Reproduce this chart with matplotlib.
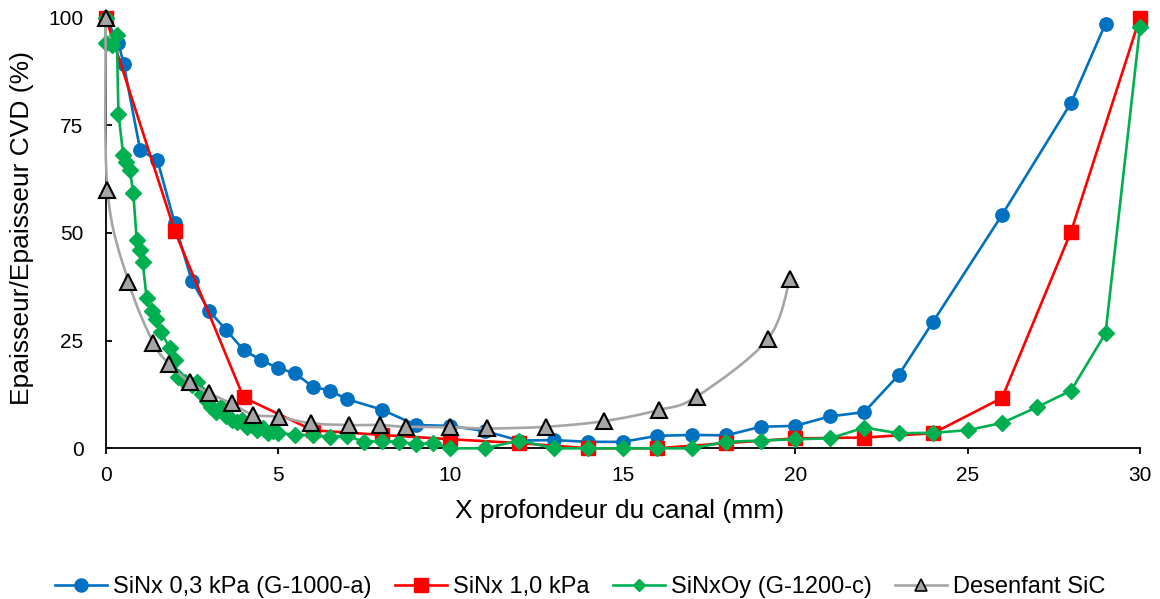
import numpy as np
import matplotlib
matplotlib.use("Agg")
import matplotlib.pyplot as plt
from matplotlib.path import Path
from matplotlib.patches import PathPatch
from matplotlib.lines import Line2D

plt.rcParams['font.family'] = ['Liberation Sans', 'DejaVu Sans']

# ---------------- data ----------------
blue_x = [0, 0.37, 0.52, 1.0, 1.5, 2.0, 2.5, 3.0, 3.5, 4.0, 4.5, 5.0, 5.5, 6.0, 6.5, 7.0,
          8.0, 9.0, 10, 11, 12, 13, 14, 15, 16, 17, 18, 19, 20, 21, 22, 23, 24, 26, 28, 29]
blue_y = [100, 94, 89.3, 69.2, 66.9, 52.3, 38.8, 31.9, 27.4, 22.8, 20.5, 18.6, 17.4, 14.3, 13.4, 11.4,
          9.0, 5.4, 5.2, 4.0, 1.8, 1.9, 1.5, 1.5, 2.9, 3.1, 3.0, 5.0, 5.2, 7.4, 8.4, 17.0, 29.4, 54.2, 80.2, 98.6]

red_x = [0, 2, 4, 6, 8, 10, 12, 14, 16, 18, 20, 22, 24, 26, 28, 30]
red_y = [100, 50.5, 11.8, 4.2, 3.1, 2.1, 1.2, 0, 0, 1.2, 2.3, 2.5, 3.5, 11.7, 50.3, 100]

green_x = [0, 0, 0.17, 0.32, 0.37, 0.51, 0.6, 0.7, 0.8, 0.9, 1.0, 1.07, 1.19, 1.33, 1.45, 1.6,
           1.86, 2.0, 2.1, 2.3, 2.5, 2.65, 2.8, 2.95, 3.05, 3.2, 3.35, 3.5, 3.65, 3.8, 3.95,
           4.1, 4.25, 4.4, 4.55, 4.7, 4.85, 5.0, 5.5, 6.0, 6.5, 7.0, 7.5, 8.0, 8.5, 9.0, 9.5,
           10, 11, 12, 13, 14, 15, 16, 17, 18, 19, 20, 21, 22, 23, 24, 25, 26, 27, 28, 29, 30]
green_y = [100, 94, 93.6, 96, 77.7, 68, 66.5, 64.6, 59.3, 48.3, 46, 43.3, 34.8, 31.9, 29.9, 27.1,
           23.2, 20.5, 16.5, 15.5, 14.8, 15.5, 12.5, 11, 9.5, 8.5, 9.5, 7.5, 6.5, 6, 6.5,
           5, 5.5, 4.2, 4.8, 3.5, 4, 3.5, 3.2, 3.0, 2.7, 2.9, 1.5, 1.7, 1.5, 1.0, 1.2,
           0, 0, 1.8, 0, 0, 0, 0, 0, 1.5, 1.8, 2.1, 2.3, 4.8, 3.5, 3.6, 4.2, 5.9, 9.5, 13.4, 26.7, 97.8]

gray_x = [0, 0.05, 0.66, 1.38, 1.85, 2.44, 3.0, 3.65, 4.28, 5.03, 5.95, 7.07, 7.95, 8.7,
          9.99, 11.07, 12.77, 14.45, 16.05, 17.14, 19.2, 19.85]
gray_y = [100, 60, 38.7, 24.5, 19.5, 15.3, 12.8, 10.4, 7.8, 7.3, 5.8, 5.4, 5.4, 5.0,
          4.9, 4.6, 5.0, 6.3, 8.9, 12.0, 25.3, 39.4]

labels = ["SiNx 0,3 kPa (G-1000-a)", "SiNx 1,0 kPa", "SiNxOy (G-1200-c)", "Desenfant SiC"]
x_ticks = [0, 5, 10, 15, 20, 25, 30]
y_ticks = [0, 25, 50, 75, 100]

# ---------------- style ----------------
BLUE = "#0070C0"
RED = "#FF0000"
GREEN = "#00B050"
GRAY = "#A5A5A5"

fig = plt.figure(figsize=(11.6, 5.99), dpi=100)
ax = fig.add_axes([105.7 / 1160, 1 - 448.3 / 599, (1140 - 105.7) / 1160, (448.3 - 17.5) / 599])

lw = 1.9
ax.plot(blue_x, blue_y, color=BLUE, lw=lw, marker='o', ms=9.6, mec=BLUE, mfc=BLUE,
        clip_on=False, zorder=3)
ax.plot(red_x, red_y, color=RED, lw=lw, marker='s', ms=10, mec=RED, mfc=RED,
        clip_on=False, zorder=4)
ax.plot(green_x, green_y, color=GREEN, lw=lw, marker='D', ms=8.2, mec=GREEN, mfc=GREEN,
        clip_on=False, zorder=5)


def smooth_path(xs, ys):
    pts = np.column_stack([xs, ys]).astype(float)
    n = len(pts)
    verts = [pts[0]]
    codes = [Path.MOVETO]
    for i in range(n - 1):
        p0 = pts[i - 1] if i > 0 else pts[i]
        p1 = pts[i]
        p2 = pts[i + 1]
        p3 = pts[i + 2] if i + 2 < n else pts[i + 1]
        c1 = p1 + (p2 - p0) / 6.0
        c2 = p2 - (p3 - p1) / 6.0
        verts += [c1, c2, p2]
        codes += [Path.CURVE4] * 3
    return Path(verts, codes)


patch = PathPatch(smooth_path(gray_x, gray_y), facecolor='none', edgecolor=GRAY, lw=lw,
                  zorder=6, clip_on=False, capstyle='round', joinstyle='round')
ax.add_patch(patch)
ax.plot(gray_x, gray_y, ls='none', marker='^', ms=11, mfc=GRAY, mec='black', mew=1.5,
        clip_on=False, zorder=7)

ax.set_xlim(0, 30)
ax.set_ylim(0, 100)
ax.set_xticks(x_ticks)
ax.set_yticks(y_ticks)
ax.set_xticklabels([str(t) for t in x_ticks])
ax.set_yticklabels([str(t) for t in y_ticks])

for s in ['top', 'right']:
    ax.spines[s].set_visible(False)
for s in ['left', 'bottom']:
    ax.spines[s].set_color('black')
    ax.spines[s].set_linewidth(1.3)
    ax.spines[s].set_zorder(2)

ax.tick_params(axis='x', direction='out', length=4, width=1.3, pad=9, labelsize=15, colors='black')
ax.tick_params(axis='y', direction='in', length=4, width=1.3, pad=16, labelsize=15, colors='black')

fig.text(620 / 1160, 1 - 518 / 599, "X profondeur du canal (mm)", ha='center', va='baseline',
         fontsize=19)
fig.text(22 / 1160, 1 - 228 / 599, "Epaisseur/Epaisseur CVD (%)", ha='center', va='center',
         rotation=90, fontsize=19)

handles = [
    Line2D([], [], color=BLUE, lw=lw, marker='o', ms=9.4, mfc=BLUE, mec=BLUE),
    Line2D([], [], color=RED, lw=lw, marker='s', ms=9.8, mfc=RED, mec=RED),
    Line2D([], [], color=GREEN, lw=lw, marker='D', ms=6.5, mfc=GREEN, mec=GREEN),
    Line2D([], [], color=GRAY, lw=lw, marker='^', ms=9, mfc=GRAY, mec='black', mew=1.2),
]
fig.legend(handles, labels, loc='center', bbox_to_anchor=(0.5, 1 - 587 / 599), ncol=4,
           frameon=False, fontsize=17, handlelength=2.2, handletextpad=0.25,
           columnspacing=1.0, borderaxespad=0)

fig.savefig("out.png", dpi=100)
